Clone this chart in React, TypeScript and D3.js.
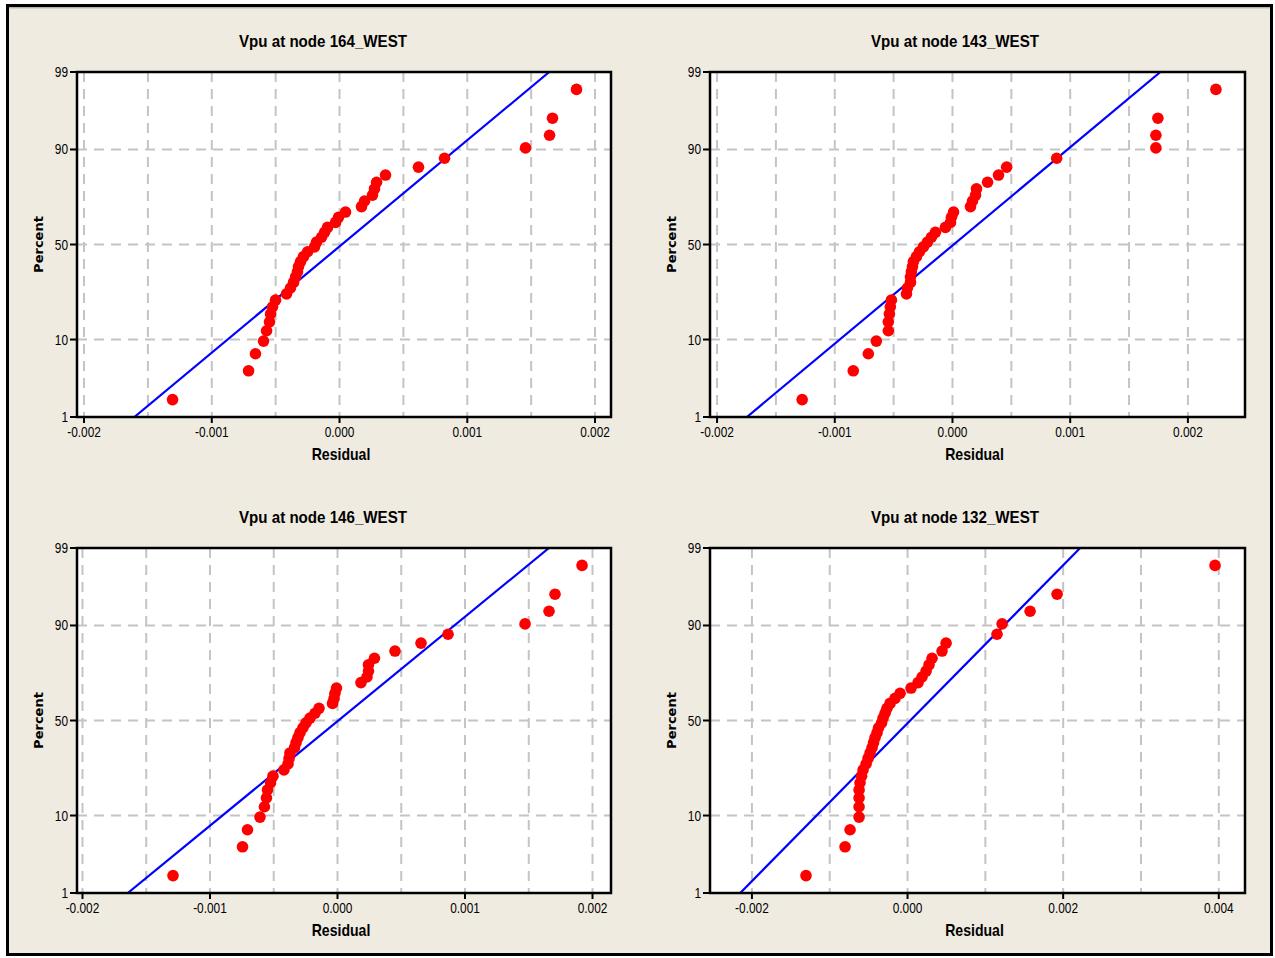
import React from 'react';
import * as d3 from 'd3';

// residuals (38 obs each)
const titles = [
  'Vpu at node 164_WEST',
  'Vpu at node 143_WEST',
  'Vpu at node 146_WEST',
  'Vpu at node 132_WEST',
];

const res164 = [
  -0.001307, -0.000712, -0.000658, -0.000595, -0.000571, -0.000548, -0.00054, -0.000524,
  -0.000501, -0.000415, -0.000384, -0.00036, -0.000344, -0.000329, -0.000321, -0.000305,
  -0.000282, -0.00025, -0.000196, -0.00018, -0.000141, -0.000117, -0.000094, -0.000031,
  -0.000008, 0.000047, 0.000172, 0.000196, 0.000258, 0.000274, 0.00029, 0.00036,
  0.000618, 0.000822, 0.001456, 0.001644, 0.001667, 0.001855,
];

const res143 = [
  -0.001277, -0.000843, -0.000715, -0.000647, -0.000545, -0.000545, -0.000536, -0.000528,
  -0.000519, -0.000391, -0.000383, -0.000357, -0.000357, -0.000349, -0.00034, -0.000332,
  -0.000306, -0.000281, -0.000247, -0.000213, -0.000179, -0.000145, -0.00006, -0.000017,
  -0.000009, 0.000009, 0.000153, 0.00017, 0.000196, 0.000204, 0.000298, 0.000391,
  0.00046, 0.000885, 0.001728, 0.001728, 0.001745, 0.002238,
];

const res146 = [
  -0.00129, -0.000745, -0.000706, -0.000608, -0.000573, -0.000557, -0.000549, -0.000525,
  -0.000506, -0.00042, -0.000388, -0.00038, -0.000373, -0.000337, -0.000325, -0.00031,
  -0.000294, -0.000271, -0.000247, -0.000216, -0.000176, -0.000145, -0.000039, -0.000027,
  -0.00002, -0.000008, 0.000184, 0.000231, 0.000243, 0.000243, 0.00029, 0.000451,
  0.000655, 0.000867, 0.001471, 0.001659, 0.001706, 0.001918,
];

const res132 = [
  -0.001305, -0.000803, -0.000739, -0.000623, -0.000623, -0.000623, -0.000623, -0.000611,
  -0.000591, -0.000572, -0.000533, -0.000508, -0.000482, -0.000456, -0.000437, -0.000418,
  -0.000392, -0.000373, -0.000334, -0.000315, -0.000289, -0.000264, -0.000225, -0.000161,
  -0.000096, 0.000045, 0.000135, 0.000186, 0.000238, 0.000276, 0.000315, 0.000443,
  0.000495, 0.00115, 0.001215, 0.001575, 0.001922, 0.003952,
];

const fitMean = [0.000018, 0.00001, 0.000007, 0.000034];
const fitStDev = [0.000698, 0.000755, 0.00071, 0.000939];

const percentTicks = [1, 10, 50, 90, 99];
const percentGrid = [10, 50, 90];
const residTicksA = [-0.002, -0.001, 0, 0.001, 0.002];
const residTicksB = [-0.002, 0, 0.002, 0.004];

const series = [res164, res143, res146, res132];

// layout of each panel (plot box in px, x domain, grid step)
const panels = [
  { cx: 323, left: 77, right: 611, top: 72, bottom: 417, x0: -0.002055, x1: 0.002125, step: 0.0005, ticks: residTicksA },
  { cx: 955, left: 710, right: 1245, top: 72, bottom: 417, x0: -0.00206, x1: 0.002485, step: 0.0005, ticks: residTicksA },
  { cx: 323, left: 77, right: 611, top: 548, bottom: 893, x0: -0.002043, x1: 0.002145, step: 0.0005, ticks: residTicksA },
  { cx: 955, left: 710, right: 1245, top: 548, bottom: 893, x0: -0.002539, x1: 0.004337, step: 0.001, ticks: residTicksB },
];

// inverse normal CDF (Acklam)
function qnorm(p: number) {
  const a = [-39.69683028665376, 220.9460984245205, -275.928510446969, 138.357751867269, -30.66479806614716, 2.506628277459239];
  const b = [-54.47609879822406, 161.5858368580409, -155.6989798598866, 66.80131188771972, -13.28068155288572];
  const c = [-0.007784894002430293, -0.3223964580411365, -2.400758277161838, -2.549732539343734, 4.374664141464968, 2.938163982698783];
  const d = [0.007784695709041462, 0.3224671290700398, 2.445134137142996, 3.754408661907416];
  const pl = 0.02425;
  let q, r;
  if (p < pl) {
    q = Math.sqrt(-2 * Math.log(p));
    return (((((c[0] * q + c[1]) * q + c[2]) * q + c[3]) * q + c[4]) * q + c[5]) / ((((d[0] * q + d[1]) * q + d[2]) * q + d[3]) * q + 1);
  }
  if (p > 1 - pl) {
    q = Math.sqrt(-2 * Math.log(1 - p));
    return -(((((c[0] * q + c[1]) * q + c[2]) * q + c[3]) * q + c[4]) * q + c[5]) / ((((d[0] * q + d[1]) * q + d[2]) * q + d[3]) * q + 1);
  }
  q = p - 0.5;
  r = q * q;
  return ((((((a[0] * r + a[1]) * r + a[2]) * r + a[3]) * r + a[4]) * r + a[5]) * q) / (((((b[0] * r + b[1]) * r + b[2]) * r + b[3]) * r + b[4]) * r + 1);
}

const sans = '"Liberation Sans", Arial, sans-serif';
const gridColor = '#c4c4c4';
const fmt = (t: number) => d3.format('.3f')(t).replace('\u2212', '-');

// squeezed text to mimic the narrow Minitab font
function Narrow({ x, y, sx, anchor, size, bold, children }: any) {
  return (
    <text
      transform={`translate(${x},${y}) scale(${sx},1)`}
      textAnchor={anchor}
      fontFamily={sans}
      fontWeight={bold ? 'bold' : 'normal'}
      fontSize={size}
    >
      {children}
    </text>
  );
}

function ProbPlot({ idx }: { idx: number }) {
  const p = panels[idx];
  const values = series[idx].slice().sort(d3.ascending);
  const n = values.length;
  const x = d3.scaleLinear().domain([p.x0, p.x1]).range([p.left, p.right]);
  const y = d3.scaleLinear().domain([qnorm(0.01), qnorm(0.99)]).range([p.bottom, p.top]);

  const grid = d3
    .range(Math.ceil(p.x0 / p.step - 1e-9), Math.floor(p.x1 / p.step + 1e-9) + 1)
    .map(k => k * p.step);

  const pts = values.map((v, i) => ({ v, z: qnorm((i + 1 - 0.3) / (n + 0.4)) }));

  const fitZ = y.domain();
  const line = d3
    .line<number>()
    .x(z => x(fitMean[idx] + fitStDev[idx] * z))
    .y(z => y(z));

  const clipId = `clip${idx}`;

  return (
    <g>
      <Narrow x={p.cx} y={p.top - 25} sx={0.89} anchor="middle" size={17} bold>
        {titles[idx]}
      </Narrow>
      <rect x={p.left} y={p.top} width={p.right - p.left} height={p.bottom - p.top} fill="#fff" />
      <defs>
        <clipPath id={clipId}>
          <rect x={p.left} y={p.top} width={p.right - p.left} height={p.bottom - p.top} />
        </clipPath>
      </defs>
      {grid.map(g => (
        <line key={'gx' + g} x1={x(g)} x2={x(g)} y1={p.top} y2={p.bottom} stroke={gridColor} strokeWidth={2} strokeDasharray="10,7" />
      ))}
      {percentGrid.map(g => (
        <line key={'gy' + g} x1={p.left} x2={p.right} y1={y(qnorm(g / 100))} y2={y(qnorm(g / 100))} stroke={gridColor} strokeWidth={2} strokeDasharray="10,7" />
      ))}
      <g clipPath={`url(#${clipId})`}>
        <path d={line(fitZ) || ''} fill="none" stroke="#0000ff" strokeWidth={2.2} />
      </g>
      {pts.map((d, i) => (
        <circle key={i} cx={x(d.v)} cy={y(d.z)} r={5.8} fill="#ff0000" />
      ))}
      <rect x={p.left} y={p.top} width={p.right - p.left} height={p.bottom - p.top} fill="none" stroke="#000" strokeWidth={2.5} />
      {percentTicks.map(t => (
        <g key={'yt' + t}>
          <line x1={p.left - 7} x2={p.left} y1={y(qnorm(t / 100))} y2={y(qnorm(t / 100))} stroke="#000" strokeWidth={2} />
          <Narrow x={p.left - 9} y={y(qnorm(t / 100)) + 5} sx={0.82} anchor="end" size={14.5}>
            {t}
          </Narrow>
        </g>
      ))}
      {p.ticks.map(t => (
        <g key={'xt' + t}>
          <line x1={x(t)} x2={x(t)} y1={p.bottom} y2={p.bottom + 6} stroke="#000" strokeWidth={2} />
          <Narrow x={x(t)} y={p.bottom + 20} sx={0.82} anchor="middle" size={14.5}>
            {fmt(t)}
          </Narrow>
        </g>
      ))}
      <Narrow x={(p.left + p.right) / 2 - 3} y={p.bottom + 43} sx={0.88} anchor="middle" size={16} bold>
        Residual
      </Narrow>
      <text
        transform={`translate(${p.left - 34},${(p.top + p.bottom) / 2}) rotate(-90)`}
        textAnchor="middle"
        fontFamily='"DejaVu Sans", Verdana, sans-serif'
        fontWeight="bold"
        fontSize={13}
      >
        Percent
      </text>
    </g>
  );
}

export default function App() {
  return (
    <svg width={1275} height={958} style={{ position: 'absolute', left: 0, top: 0 }}>
      <rect width={1275} height={958} fill="#fff" />
      <rect x={7.5} y={5.5} width={1264} height={949} fill="#efebe1" stroke="#000" strokeWidth={3} />
      <line x1={9} x2={1270} y1={7.8} y2={7.8} stroke="#9a9a9a" strokeWidth={1} />
      {panels.map((_, i) => (
        <ProbPlot key={i} idx={i} />
      ))}
    </svg>
  );
}
